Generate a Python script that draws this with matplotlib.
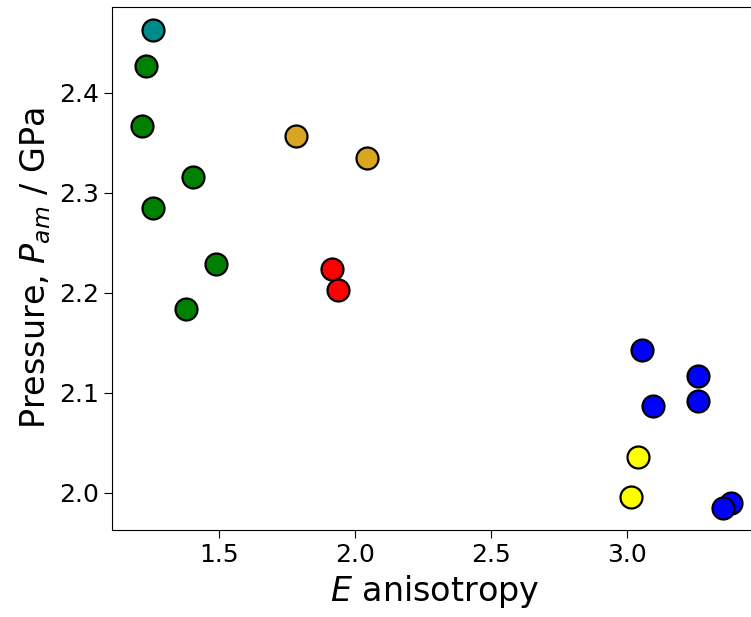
import matplotlib
matplotlib.use("Agg")
import matplotlib.pyplot as plt

# anisotropy vs amorphisation pressure, grouped by colour
teal_x = [1.257]
teal_y = [2.463]
green_x = [1.232, 1.217, 1.404, 1.257, 1.489, 1.379]
green_y = [2.427, 2.367, 2.316, 2.285, 2.229, 2.184]
gold_x = [1.783, 2.044]
gold_y = [2.357, 2.335]
red_x = [1.915, 1.938]
red_y = [2.224, 2.203]
blue_x = [3.055, 3.096, 3.261, 3.261, 3.382, 3.353]
blue_y = [2.143, 2.087, 2.117, 2.092, 1.990, 1.985]
yellow_x = [3.040, 3.015]
yellow_y = [2.036, 1.996]

fig = plt.figure(figsize=(7.51, 6.17), dpi=100)
ax = fig.add_axes([0.149, 0.141, 0.86, 0.848])

groups = [(teal_x, teal_y, "#008b8b"), (green_x, green_y, "green"),
          (gold_x, gold_y, "#daa520"), (red_x, red_y, "red"),
          (blue_x, blue_y, "blue"), (yellow_x, yellow_y, "yellow")]
for xs, ys, c in groups:
    ax.scatter(xs, ys, s=250, c=c, edgecolors="black", linewidths=1.6, zorder=3)

ax.set_xlim(1.107, 3.48)
ax.set_ylim(1.963, 2.486)
ax.set_xticks([1.5, 2.0, 2.5, 3.0])
ax.set_yticks([2.0, 2.1, 2.2, 2.3, 2.4])
ax.tick_params(labelsize=18, length=6)
ax.set_xlabel("$E$ anisotropy", fontsize=24)
ax.set_ylabel("Pressure, $P_{am}$ / GPa", fontsize=24)

fig.savefig("out.png", dpi=100)
